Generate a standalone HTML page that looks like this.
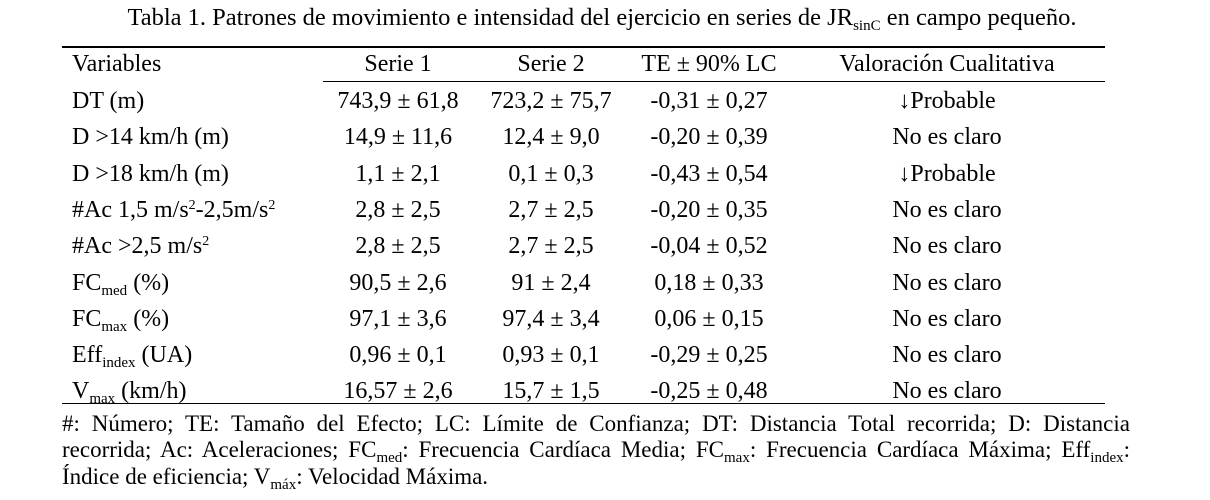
<!DOCTYPE html>
<html><head><meta charset="utf-8"><style>
body{margin:0;width:1210px;height:500px;background:#fff;position:relative;overflow:hidden;font-family:"Liberation Serif",serif;font-size:24px;color:#000}
.a{position:absolute;white-space:nowrap;line-height:26px}
.c{transform:translateX(-50%)}
sub{font-size:15px;vertical-align:-5px;line-height:0}
sup{font-size:14px;vertical-align:8px;line-height:0}
.rule{position:absolute;background:#000}
.f{position:absolute;left:62px;width:1068px;text-align:justify;text-align-last:justify;line-height:26px;white-space:nowrap;font-size:23px}
</style></head><body>
<div class="a c" style="left:602px;top:5px;font-size:24.5px">Tabla 1. Patrones de movimiento e intensidad del ejercicio en series de JR<sub>sinC</sub> en campo pequeño.</div>
<div class="rule" style="left:62px;top:46px;width:1043px;height:2px"></div>
<div class="rule" style="left:323px;top:81px;width:782px;height:1px"></div>
<div class="rule" style="left:62px;top:403px;width:1043px;height:1px"></div>
<div class="a" style="left:72px;top:51px">Variables</div>
<div class="a c" style="left:398px;top:51px">Serie 1</div>
<div class="a c" style="left:551px;top:51px">Serie 2</div>
<div class="a c" style="left:709px;top:51px">TE ± 90% LC</div>
<div class="a c" style="left:947px;top:51px">Valoración Cualitativa</div>
<div id="rows"></div>
<div class="f" style="top:411px">#: Número; TE: Tamaño del Efecto; LC: Límite de Confianza; DT: Distancia Total recorrida; D: Distancia</div>
<div class="f" style="top:437px">recorrida; Ac: Aceleraciones; FC<sub>med</sub>: Frecuencia Cardíaca Media; FC<sub>max</sub>: Frecuencia Cardíaca Máxima; Eff<sub>index</sub>:</div>
<div class="a" style="left:62px;top:464px;font-size:23px">Índice de eficiencia; V<sub>máx</sub>: Velocidad Máxima.</div>
<script>
const vars=['DT (m)','D &gt;14 km/h (m)','D &gt;18 km/h (m)','#Ac 1,5 m/s<sup>2</sup>-2,5m/s<sup>2</sup>','#Ac &gt;2,5 m/s<sup>2</sup>','FC<sub>med</sub> (%)','FC<sub>max</sub> (%)','Eff<sub>index</sub> (UA)','V<sub>max</sub> (km/h)'];
const s1=['743,9 ± 61,8','14,9 ± 11,6','1,1 ± 2,1','2,8 ± 2,5','2,8 ± 2,5','90,5 ± 2,6','97,1 ± 3,6','0,96 ± 0,1','16,57 ± 2,6'];
const s2=['723,2 ± 75,7','12,4 ± 9,0','0,1 ± 0,3','2,7 ± 2,5','2,7 ± 2,5','91 ± 2,4','97,4 ± 3,4','0,93 ± 0,1','15,7 ± 1,5'];
const te=['-0,31 ± 0,27','-0,20 ± 0,39','-0,43 ± 0,54','-0,20 ± 0,35','-0,04 ± 0,52','0,18 ± 0,33','0,06 ± 0,15','-0,29 ± 0,25','-0,25 ± 0,48'];
const val=['↓Probable','No es claro','↓Probable','No es claro','No es claro','No es claro','No es claro','No es claro','No es claro'];
const rows=document.getElementById('rows');
const cols=[[vars,72,false,'variable'],[s1,398,true,'serie-1'],[s2,551,true,'serie-2'],[te,709,true,'te'],[val,947,true,'valoracion']];
vars.forEach((v,i)=>{
  const top=88+i*36.3;
  cols.forEach(([arr,x,c,n])=>{
    const d=document.createElement('div');
    d.className='a'+(c?' c':'');
    d.style.left=x+'px';d.style.top=top+'px';
    d.innerHTML=arr[i];
    
    
    rows.appendChild(d);
  });
});
</script>
</body></html>
